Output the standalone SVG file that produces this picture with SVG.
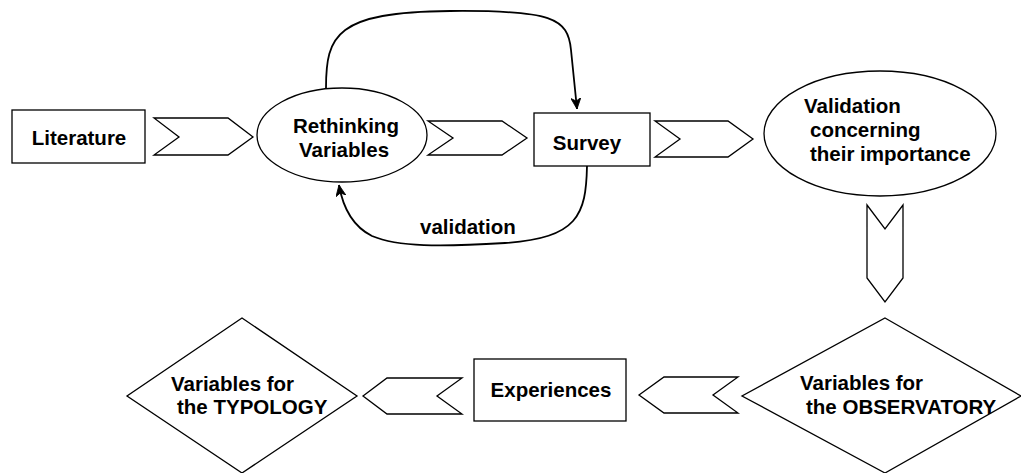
<svg xmlns="http://www.w3.org/2000/svg" width="1021" height="473" viewBox="0 0 1021 473">
  <style>
    .shape { fill: #ffffff; stroke: #000000; stroke-width: 1.3; stroke-linejoin: miter; }
    .link { fill: none; stroke: #000000; stroke-width: 1.8; }
    .label { font-family: "Liberation Sans", Arial, sans-serif; font-size: 20.5px; font-weight: bold; fill: #000000; }
  </style>
  <defs>
    <marker id="arrow" viewBox="0 0 12 10" refX="11" refY="5" markerWidth="12" markerHeight="10" markerUnits="userSpaceOnUse" orient="auto">
      <path d="M0,0 L11,5 L0,10 L3,5 z" fill="#000000" stroke="#000000" stroke-width="0.8"/>
    </marker>
  </defs>
  <rect width="1021" height="473" fill="#ffffff"/>

  <!-- feedback loops between Rethinking Variables and Survey -->
  <g id="connectors">
    <path class="link" d="M326,88 C326,35 336,12 450,11 C552,10 568,18 571,50 L577,109" marker-end="url(#arrow)"/>
    <path class="link" d="M587,166 C586,215 578,238 505,243 C440,247 398,247 372,236 C352,226 343,208 339,185" marker-end="url(#arrow)"/>
    <text class="label" x="420" y="234">validation</text>
  </g>

  <!-- process steps -->
  <g id="literature">
    <rect class="shape" x="12" y="110" width="133" height="53"/>
    <text class="label" x="79" y="145" text-anchor="middle">Literature</text>
  </g>

  <g id="step-literature-rethinking">
    <polygon class="shape" points="154,118 228,118 253,137 228,155 154,155 179,137"/>
  </g>

  <g id="rethinking">
    <ellipse class="shape" cx="342" cy="135" rx="85" ry="47"/>
    <text class="label" x="293" y="133">Rethinking</text>
    <text class="label" x="299" y="157">Variables</text>
  </g>

  <g id="step-rethinking-survey">
    <polygon class="shape" points="428,121 502,121 527,138 502,155 428,155 453,138"/>
  </g>

  <g id="survey">
    <rect class="shape" x="534" y="113" width="116" height="53"/>
    <text class="label" x="587" y="150" text-anchor="middle">Survey</text>
  </g>

  <g id="step-survey-validation">
    <polygon class="shape" points="655,121 728,121 753,139 728,157 655,157 680,139"/>
  </g>

  <g id="validation">
    <ellipse class="shape" cx="880" cy="133.5" rx="116" ry="62.5"/>
    <text class="label" x="804" y="113">Validation</text>
    <text class="label" x="810" y="137">concerning</text>
    <text class="label" x="810" y="161">their importance</text>
  </g>

  <g id="step-validation-observatory">
    <polygon class="shape" points="867,205 885,229 903,205 903,278 885,302 867,278"/>
  </g>

  <g id="observatory">
    <polygon class="shape" points="885,318 1021,396 885,473 742,396"/>
    <text class="label" x="800" y="390">Variables for</text>
    <text class="label" x="806" y="414">the OBSERVATORY</text>
  </g>

  <g id="step-observatory-experiences">
    <polygon class="shape" points="639,395 664,377 738,377 713,395 738,413 664,413"/>
  </g>

  <g id="experiences">
    <rect class="shape" x="474" y="359" width="152" height="62"/>
    <text class="label" x="551" y="397" text-anchor="middle">Experiences</text>
  </g>

  <g id="step-experiences-typology">
    <polygon class="shape" points="363,396 387,378 462,378 437,396 462,414 387,414"/>
  </g>

  <g id="typology">
    <polygon class="shape" points="242,318 357,396 242,473 127,396"/>
    <text class="label" x="171" y="391">Variables for</text>
    <text class="label" x="177" y="414">the TYPOLOGY</text>
  </g>
</svg>
